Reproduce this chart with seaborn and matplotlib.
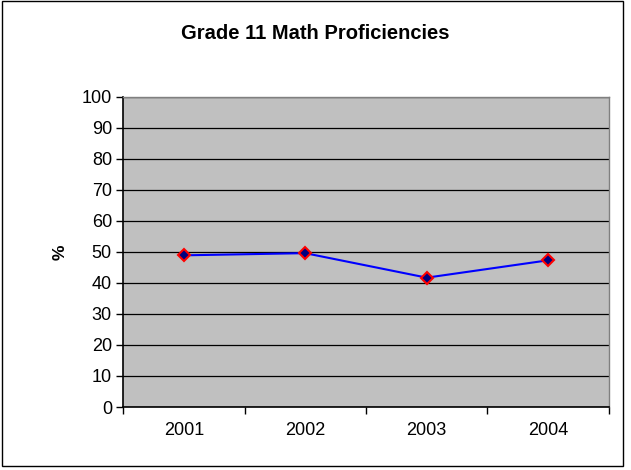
import pandas as pd
import seaborn as sns
import matplotlib.pyplot as plt
from matplotlib.ticker import FixedLocator, NullFormatter

# Data
years = ["2001", "2002", "2003", "2004"]
proficiency = [48.9, 49.6, 41.7, 47.3]
y_ticks = list(range(0, 101, 10))

df = pd.DataFrame({"year": years, "pct": proficiency})

sns.set_style("white")
plt.rcParams["font.family"] = ["Liberation Sans", "DejaVu Sans"]
plt.rcParams["text.color"] = "black"
plt.rcParams["xtick.color"] = "black"
plt.rcParams["ytick.color"] = "black"
plt.rcParams["axes.labelcolor"] = "black"

fig = plt.figure(figsize=(6.31, 4.70), dpi=100)
ax = fig.add_axes([0.195, 0.134, 0.77, 0.66])
ax.set_facecolor("#C0C0C0")

sns.lineplot(data=df, x="year", y="pct", ax=ax, color="#0000FF", linewidth=1.5,
             marker="D", markersize=6.5, markerfacecolor="#000080",
             markeredgecolor="#FF0000", markeredgewidth=1.5, sort=False)

ax.set_ylim(0, 100)
ax.set_yticks(y_ticks)
ax.yaxis.grid(True, color="black", linewidth=0.9)
ax.set_axisbelow(True)

# category labels centred, tick marks on the bin boundaries
ax.set_xlim(-0.5, len(years) - 0.5)
ax.xaxis.set_major_locator(FixedLocator([i - 0.5 for i in range(len(years) + 1)]))
ax.xaxis.set_major_formatter(NullFormatter())
ax.xaxis.set_minor_locator(FixedLocator(range(len(years))))
ax.set_xticklabels(years, minor=True)
ax.tick_params(axis="x", which="major", direction="out", length=5, width=1, bottom=True)
ax.tick_params(axis="x", which="minor", length=0, pad=11, labelsize=13)
ax.tick_params(axis="y", direction="out", length=5, width=1, left=True, labelsize=13, pad=3)

for side in ["left", "bottom"]:
    ax.spines[side].set_color("black")
    ax.spines[side].set_linewidth(1.2)
for side in ["top", "right"]:
    ax.spines[side].set_color("#808080")
    ax.spines[side].set_linewidth(1)

ax.set_xlabel("")
ax.set_ylabel("%", fontsize=12.5, fontweight="bold", labelpad=10)
fig.suptitle("Grade 11 Math Proficiencies", y=0.948, fontsize=14.5, fontweight="bold")

# outer chart border
fig.patches.append(plt.Rectangle((0.003, 0.008), 0.985, 0.989, transform=fig.transFigure,
                                 fill=False, edgecolor="black", linewidth=1))

fig.savefig("out.png", dpi=100)
